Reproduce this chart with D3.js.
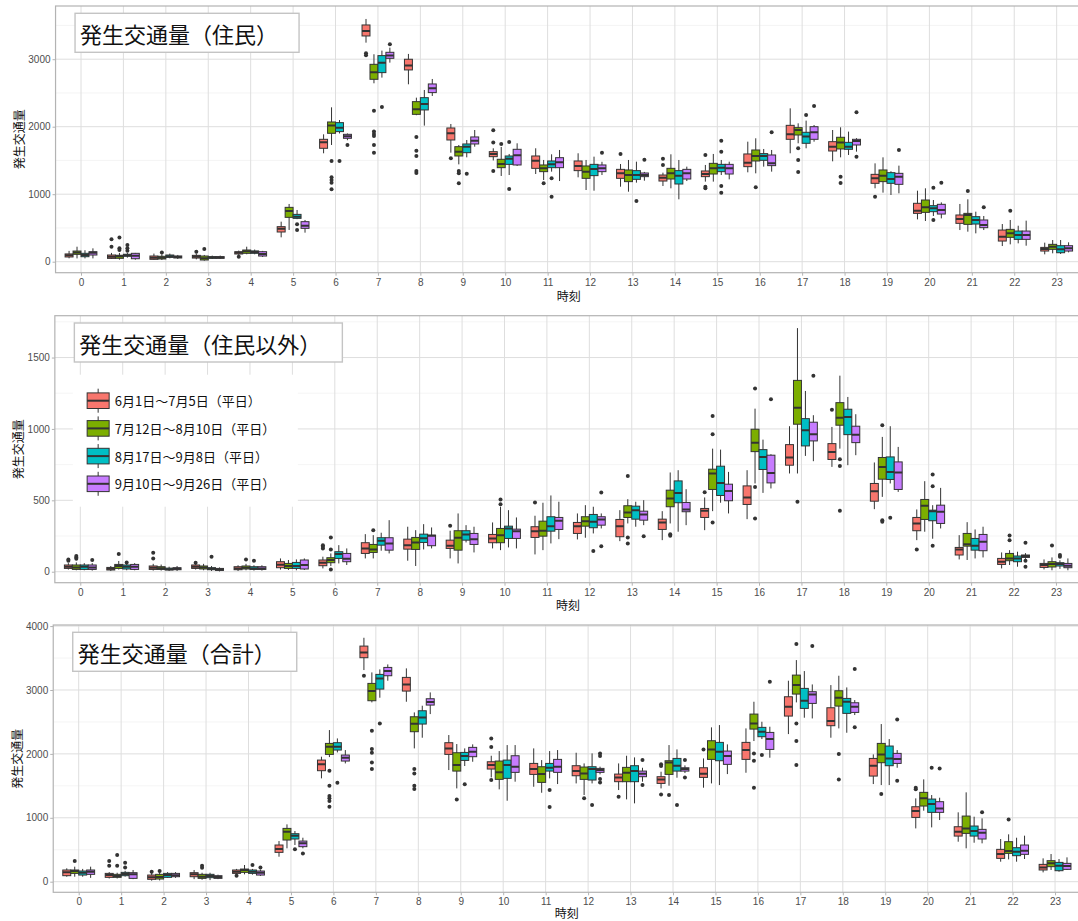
<!DOCTYPE html>
<html>
<head>
<meta charset="utf-8">
<script src="https://cdn.jsdelivr.net/npm/d3@7"></script>
<style>
  body { margin: 0; background: #fff; }
  svg { display: block; }
</style>
</head>
<body>
<svg id="chart" width="1078" height="921"></svg>
<script>
// Hour of day (categories on the x axis)
const hours = [0,1,2,3,4,5,6,7,8,9,10,11,12,13,14,15,16,17,18,19,20,21,22,23];

// Survey periods (fill groups)
const periods = ["6月1日～7月5日（平日）", "7月12日～8月10日（平日）", "8月17日～9月8日（平日）", "9月10日～9月26日（平日）"];
const periodColors = ["#F8766D", "#7CAE00", "#00BFC4", "#C77CFF"];

// Box statistics per hour: [lower whisker, Q1, median, Q3, upper whisker]
// Outliers: [hour, value]

// ---- 発生交通量（住民） ----
const residentP1 = [
  [50,70,95,115,160],[40,49,74,99,130],[30,35,59,84,120],[35,54,74,94,120],
  [100,114,133,148,165],[361,440,489,519,593],[1606,1680,1769,1813,1887],[3245,3344,3418,3507,3596],
  [2628,2841,2905,2999,3078],[1615,1803,1902,1981,2040],[1500,1556,1596,1630,1680],[1299,1383,1497,1566,1680],
  [1250,1349,1418,1492,1606],[1111,1235,1309,1368,1447],[1121,1195,1245,1284,1319],[1186,1260,1299,1344,1433],
  [1324,1408,1467,1596,1778],[1606,1813,1887,2020,2272],[1487,1640,1704,1778,1951],[1087,1161,1235,1294,1457],
  [627,716,756,865,1052],[469,568,632,692,855],[232,306,370,469,558],[109,158,188,212,282]
];
const residentP2 = [
  [49,109,138,158,222],[30,50,80,95,130],[25,40,60,80,110],[15,25,50,84,100],
  [110,124,153,173,222],[470,657,751,805,855],[1729,1902,2016,2070,2287],[2643,2702,2806,2924,3073],
  [2170,2183,2258,2371,2430],[1442,1566,1630,1704,1729],[1270,1393,1447,1517,1700],[1210,1334,1383,1433,1507],
  [1062,1235,1334,1418,1507],[1037,1186,1284,1359,1507],[1087,1225,1309,1383,1591],[1186,1299,1383,1457,1596],
  [1309,1492,1566,1655,1828],[1754,1877,1951,1986,2050],[1546,1670,1764,1843,1991],[1023,1186,1275,1359,1546],
  [603,731,805,914,1087],[445,553,692,716,924],[257,361,420,479,618],[124,183,222,257,321]
];
const residentP3 = [
  [49,74,99,124,170],[60,80,95,110,130],[50,64,80,99,120],[40,50,62,75,90],
  [110,124,143,160,180],[630,642,667,701,766],[1900,1927,1986,2060,2099],[2727,2801,2949,3053,3127],
  [2016,2248,2337,2430,2544],[1546,1615,1704,1744,1803],[1284,1442,1526,1566,1596],[1334,1393,1442,1492,1591],
  [1052,1275,1373,1442,1556],[1171,1220,1284,1349,1482],[924,1151,1275,1349,1507],[1284,1334,1393,1442,1507],
  [1408,1502,1566,1601,1670],[1680,1754,1853,1917,2090],[1581,1665,1704,1768,1927],[988,1161,1225,1319,1340],
  [677,741,790,830,914],[420,558,618,667,741],[272,331,395,454,533],[114,133,183,237,321]
];
const residentP4 = [
  [49,99,133,148,198],[30,44,89,124,130],[40,55,70,85,100],[40,50,62,75,90],
  [70,84,114,148,160],[430,494,533,593,618],[1800,1828,1857,1887,1900],[2949,3013,3053,3102,3171],
  [2455,2505,2569,2633,2707],[1704,1744,1793,1848,1951],[1418,1433,1576,1665,1754],[1195,1393,1472,1541,1655],
  [1284,1334,1383,1433,1480],[1200,1260,1285,1314,1330],[1195,1225,1309,1368,1408],[1220,1299,1383,1442,1482],
  [1334,1423,1457,1581,1655],[1778,1813,1917,2000,2025],[1630,1729,1788,1813,1830],[1013,1146,1260,1309,1423],
  [642,706,766,850,879],[469,504,543,618,677],[237,331,395,454,608],[138,158,198,237,287]
];
const residentOut1 = [[1,331],[1,222],[3,148],[4,74],[7,3087],[7,3060],[9,1531],[10,1946],[10,1764],[10,1344],[13,1596],[14,1526],[14,1433],[15,1581],[15,1111],[15,1087],[19,963]];
const residentOut2 = [[1,360],[1,198],[1,173],[2,138],[3,188],[6,1492],[6,1250],[6,1210],[6,1171],[6,1072],[7,2238],[7,1927],[7,1892],[7,1862],[7,1729],[7,1615],[8,1848],[8,1645],[8,1566],[8,1344],[8,1314],[9,1344],[9,1309],[9,1161],[10,1745],[11,1161],[16,1102],[17,1680],[17,1507],[17,1329],[18,1260],[18,1166],[21,1047],[22,756]];
const residentOut3 = [[1,247],[1,198],[1,163],[5,553],[5,469],[6,1492],[7,2292],[9,1304],[10,1773],[10,1077],[11,1235],[11,963],[13,899],[15,1793],[15,1630],[15,1121],[15,1023],[17,2174],[20,1097],[20,618]];
const residentOut4 = [[6,1729],[7,3221],[12,1615],[13,1512],[16,1917],[17,2307],[18,2213],[18,1556],[19,1655],[20,1171],[21,805]];

// ---- 発生交通量（住民以外） ----
const visitorP1 = [
  [15,23,35,47,60],[5,12,21,30,40],[8,16,28,40,55],[15,23,35,47,55],
  [5,14,22,35,45],[15,28,49,70,93],[23,42,63,82,105],[93,128,163,203,263],
  [77,158,186,228,315],[93,163,182,221,287],[163,203,233,261,345],[121,240,284,315,392],
  [226,268,319,345,408],[214,245,319,366,431],[221,296,345,368,424],[291,380,427,443,520],
  [368,471,520,601,711],[688,746,800,890,1019],[734,786,839,897,1014],[438,494,564,618,765],
  [221,287,338,380,436],[86,117,156,170,256],[23,51,70,93,135],[16,30,47,58,86]
];
const visitorP2 = [
  [10,16,30,47,65],[15,23,40,51,75],[8,16,25,35,50],[10,19,30,40,55],
  [10,19,28,40,55],[12,23,40,58,82],[40,63,82,98,128],[93,135,156,191,256],
  [40,156,205,240,291],[58,151,238,287,408],[151,203,256,303,455],[151,249,287,354,483],
  [238,319,354,385,466],[338,380,415,462,508],[338,455,513,571,695],[424,576,688,718,862],
  [618,841,904,998,1142],[688,1033,1149,1340,1706],[862,1026,1079,1184,1373],[524,648,734,800,944],
  [280,366,462,506,634],[82,179,193,268,347],[47,77,93,128,151],[10,33,54,70,100]
];
const visitorP3 = [
  [10,16,35,47,60],[10,19,35,47,55],[5,12,18,25,35],[5,14,20,28,40],
  [8,16,22,35,45],[10,23,40,65,86],[58,93,124,140,186],[147,186,217,238,273],
  [156,205,235,263,333],[205,221,261,287,326],[170,233,303,319,431],[198,284,319,385,534],
  [268,308,350,401,455],[315,368,431,459,490],[280,483,552,636,711],[483,534,622,739,855],
  [552,716,804,855,925],[811,881,991,1072,1266],[746,960,1084,1138,1224],[618,646,699,804,1019],
  [231,357,424,431,466],[93,151,182,233,296],[35,70,93,110,140],[20,40,54,63,80]
];
const visitorP4 = [
  [8,16,30,47,60],[10,16,35,51,60],[5,14,20,28,40],[2,9,16,23,30],
  [8,16,22,35,45],[12,19,47,82,93],[47,70,91,128,163],[128,151,198,238,361],
  [163,182,252,256,310],[135,191,228,268,315],[163,233,284,298,380],[228,296,357,380,490],
  [303,326,366,385,408],[326,361,401,424,501],[326,420,436,485,578],[408,497,566,613,699],
  [583,622,692,816,823],[774,916,963,1047,1096],[816,904,960,1019,1103],[559,576,695,769,874],
  [303,338,420,466,587],[100,147,210,261,315],[90,100,110,117,130],[10,28,42,58,93]
];
const visitorOut1 = [[0,86],[0,77],[2,133],[2,93],[3,62],[6,186],[6,175],[6,163],[9,322],[11,485],[15,557],[18,1135],[20,156]];
const visitorOut2 = [[0,110],[0,100],[0,91],[1,124],[4,86],[6,240],[6,156],[6,16],[7,291],[10,506],[10,473],[13,671],[13,240],[13,198],[14,263],[14,252],[15,1091],[15,963],[15,345],[16,1284],[16,594],[16,373],[17,490],[18,788],[18,741],[18,427],[19,1026],[19,361],[19,350],[22,254],[22,221],[23,184]];
const visitorOut3 = [[1,65],[3,105],[4,77],[12,145],[19,378],[20,681],[20,599],[20,182],[23,117],[23,105]];
const visitorOut4 = [[0,82],[12,555],[12,179],[13,249],[16,1207],[17,1373],[22,203],[22,77],[22,35]];

// ---- 発生交通量（合計） ----
const totalP1 = [
  [78,94,146,183,209],[50,68,104,130,150],[16,37,68,104,140],[40,78,115,141,183],
  [110,130,156,183,200],[391,459,511,574,636],[1617,1737,1836,1903,1956],[3312,3505,3588,3687,3817],
  [2816,2983,3087,3197,3338],[1747,1992,2086,2175,2295],[1632,1763,1825,1877,1971],[1486,1679,1763,1851,2086],
  [1538,1658,1731,1815,2018],[1434,1565,1632,1684,1851],[1460,1538,1601,1643,1721],[1471,1632,1690,1783,1929],
  [1705,1914,2060,2180,2399],[2310,2592,2738,2894,3145],[2253,2441,2514,2722,3077],[1528,1653,1815,1929,1992],
  [834,1006,1106,1173,1304],[626,714,782,860,1085],[313,365,433,506,668],[146,183,224,271,365]
];
const totalP2 = [
  [78,130,167,183,235],[50,68,89,115,140],[20,42,73,115,150],[30,52,78,115,140],
  [115,146,183,198,261],[522,652,782,834,897],[1950,1992,2112,2164,2373],[2806,2832,2983,3103,3275],
  [2086,2347,2472,2581,2649],[1460,1731,1825,2018,2154],[1445,1601,1711,1888,2044],[1392,1554,1684,1799,1903],
  [1356,1601,1695,1794,1851],[1288,1565,1705,1789,1971],[1502,1679,1867,1893,2138],[1538,1914,2070,2206,2415],
  [2201,2388,2477,2623,2816],[2806,2936,3077,3233,3468],[2399,2748,2879,2988,3223],[1512,1862,1992,2164,2467],
  [1111,1184,1304,1398,1601],[522,756,834,1027,1398],[349,443,480,626,741],[183,235,287,329,433]
];
const totalP3 = [
  [78,104,141,167,200],[80,94,120,146,170],[60,68,104,130,150],[25,63,89,115,140],
  [110,130,156,183,200],[574,668,720,751,793],[2023,2060,2112,2175,2242],[2879,3014,3181,3244,3322],
  [2253,2467,2571,2675,2754],[1810,1898,1966,2023,2086],[1267,1617,1825,1903,2138],[1617,1731,1783,1851,2044],
  [1538,1591,1763,1799,2008],[1226,1565,1731,1815,1945],[1627,1731,1815,1929,2070],[1512,1893,2034,2180,2451],
  [2232,2269,2347,2415,2503],[2566,2712,2832,3025,3296],[2331,2634,2816,2868,3040],[1512,1815,1929,2123,2232],
  [850,1085,1215,1293,1356],[610,714,793,871,1017],[313,407,469,532,688],[156,172,250,302,355]
];
const totalP4 = [
  [60,115,156,183,235],[40,52,115,141,183],[60,78,100,130,150],[40,52,73,94,110],
  [90,104,141,167,190],[522,548,600,636,688],[1851,1888,1940,1982,2060],[3145,3223,3296,3353,3400],
  [2623,2764,2811,2863,2962],[1877,1956,2034,2102,2149],[1565,1711,1799,1971,2138],[1528,1711,1799,1914,2060],
  [1680,1711,1747,1773,1800],[1565,1643,1690,1731,1783],[1700,1731,1763,1783,1820],[1684,1836,1966,2044,2149],
  [1940,2070,2232,2336,2425],[2555,2790,2931,2973,3087],[2608,2649,2738,2800,2842],[1783,1851,1919,2008,2060],
  [965,1085,1147,1252,1314],[600,668,767,819,991],[355,428,485,574,720],[183,193,245,287,381]
];
const totalOut1 = [[1,323],[1,250],[2,156],[4,94],[7,3223],[10,2242],[10,2107],[10,1591],[13,1330],[14,1836],[14,1810],[14,1366],[15,2070],[20,1471],[20,1445]];
const totalOut2 = [[0,323],[1,417],[1,250],[2,167],[3,250],[3,219],[6,1737],[6,1502],[6,1340],[6,1304],[6,1262],[6,1173],[7,2362],[7,2076],[7,2018],[7,1867],[7,1763],[8,1763],[8,1695],[8,1502],[8,1450],[9,1288],[12,1304],[14,1356],[16,2008],[16,1893],[16,1471],[17,3718],[17,2477],[17,2201],[17,1825],[18,1997],[18,1601],[19,1372],[22,975]];
const totalOut3 = [[1,297],[1,224],[4,261],[5,506],[6,1549],[7,2477],[9,1523],[11,1434],[11,1168],[12,1199],[14,1199],[16,1982],[20,1783]];
const totalOut4 = [[4,224],[5,443],[12,2008],[12,1966],[12,1606],[12,1554],[13,1903],[13,1512],[14,1903],[14,1632],[16,3129],[17,3687],[18,3327],[18,2415],[19,2540],[19,1580],[20,1773],[21,1085]];

// Y tick values per panel
const residentTicks = [0, 1000, 2000, 3000];
const visitorTicks = [0, 500, 1000, 1500];
const totalTicks = [0, 1000, 2000, 3000, 4000];

// Panel layout
const panels = [
  { title: "発生交通量（住民）", stats: [residentP1, residentP2, residentP3, residentP4],
    outliers: [residentOut1, residentOut2, residentOut3, residentOut4],
    yDomain: [-163, 3788], ticks: residentTicks, minorStep: 500,
    top: 6, bottom: 272.7, x0: 81, step: 42.42, xTitleGap: 23, legend: false },
  { title: "発生交通量（住民以外）", stats: [visitorP1, visitorP2, visitorP3, visitorP4],
    outliers: [visitorOut1, visitorOut2, visitorOut3, visitorOut4],
    yDomain: [-77, 1793], ticks: visitorTicks, minorStep: 250,
    top: 315.7, bottom: 582.7, x0: 80.3, step: 42.42, xTitleGap: 22, legend: true },
  { title: "発生交通量（合計）", stats: [totalP1, totalP2, totalP3, totalP4],
    outliers: [totalOut1, totalOut2, totalOut3, totalOut4],
    yDomain: [-166, 4017], ticks: totalTicks, minorStep: 500,
    top: 625, bottom: 892.3, x0: 78.7, step: 42.45, xTitleGap: 20, legend: false }
];

const svg = d3.select("#chart");
const cjk = "'Noto Sans CJK JP', 'Noto Sans', sans-serif";
const latin = "'Liberation Sans', Arial, 'Noto Sans CJK JP', sans-serif";
const gridMajor = "#dedede";
const gridMinor = "#efefef";
const frame = "#b3b3b3";
const ink = "#333333";

panels.forEach((p, pi) => {
  const left = p.x0 - 0.6 * p.step;
  const right = p.x0 + 23.6 * p.step;
  const x = d3.scalePoint().domain(hours).range([p.x0, p.x0 + 23 * p.step]);
  const dodge = d3.scaleBand().domain([0, 1, 2, 3]).range([-0.375 * p.step, 0.375 * p.step]);
  const y = d3.scaleLinear().domain(p.yDomain).range([p.bottom, p.top]);
  const bw = dodge.bandwidth();

  const g = svg.append("g");
  const clipId = "clip" + pi;
  svg.append("clipPath").attr("id", clipId)
    .append("rect").attr("x", left).attr("y", p.top).attr("width", right - left).attr("height", p.bottom - p.top);

  const plot = g.append("g").attr("clip-path", `url(#${clipId})`);

  // minor horizontal grid
  const minor = d3.range(p.ticks[0] + p.minorStep, p.yDomain[1], p.minorStep * 2);
  plot.selectAll(".minor").data(minor).join("line")
    .attr("x1", left).attr("x2", right)
    .attr("y1", d => y(d)).attr("y2", d => y(d))
    .attr("stroke", gridMinor).attr("stroke-width", 0.6);
  // major horizontal grid
  plot.selectAll(".hmaj").data(p.ticks).join("line")
    .attr("x1", left).attr("x2", right)
    .attr("y1", d => y(d)).attr("y2", d => y(d))
    .attr("stroke", gridMajor).attr("stroke-width", 1);
  // vertical grid
  plot.selectAll(".vmaj").data(hours).join("line")
    .attr("x1", d => x(d)).attr("x2", d => x(d))
    .attr("y1", p.top).attr("y2", p.bottom)
    .attr("stroke", gridMajor).attr("stroke-width", 1);

  // boxplots
  p.stats.forEach((series, si) => {
    const sg = plot.append("g");
    const cx = h => x(h) + dodge(si) + bw / 2;
    const boxes = sg.selectAll("g.box").data(series.map((s, h) => ({ h, s }))).join("g");
    boxes.append("line")
      .attr("x1", d => cx(d.h)).attr("x2", d => cx(d.h))
      .attr("y1", d => y(d.s[0])).attr("y2", d => y(d.s[4]))
      .attr("stroke", ink).attr("stroke-width", 1);
    boxes.append("rect")
      .attr("x", d => cx(d.h) - bw / 2).attr("width", bw)
      .attr("y", d => y(d.s[3])).attr("height", d => Math.max(0.5, y(d.s[1]) - y(d.s[3])))
      .attr("fill", periodColors[si]).attr("stroke", ink).attr("stroke-width", 1);
    boxes.append("line")
      .attr("x1", d => cx(d.h) - bw / 2).attr("x2", d => cx(d.h) + bw / 2)
      .attr("y1", d => y(d.s[2])).attr("y2", d => y(d.s[2]))
      .attr("stroke", ink).attr("stroke-width", 2);
    sg.selectAll("circle").data(p.outliers[si]).join("circle")
      .attr("cx", d => cx(d[0])).attr("cy", d => y(d[1])).attr("r", 2)
      .attr("fill", ink);
  });

  // panel frame
  g.append("rect").attr("x", left).attr("y", p.top)
    .attr("width", right - left).attr("height", p.bottom - p.top)
    .attr("fill", "none").attr("stroke", frame).attr("stroke-width", 1.2);

  // axes
  const yAxis = g.append("g").attr("transform", `translate(${left},0)`)
    .call(d3.axisLeft(y).tickValues(p.ticks).tickSize(3).tickPadding(2).tickFormat(d3.format("d")));
  const xAxis = g.append("g").attr("transform", `translate(0,${p.bottom})`)
    .call(d3.axisBottom(x).tickSize(3).tickPadding(3));
  [yAxis, xAxis].forEach(ax => {
    ax.select(".domain").remove();
    ax.selectAll(".tick line").attr("stroke", frame).attr("stroke-width", 1);
    ax.selectAll(".tick text").attr("fill", "#4d4d4d").style("font-family", latin).style("font-size", "10px");
  });

  // axis titles
  g.append("text")
    .attr("transform", `translate(${left - 37},${(p.top + p.bottom) / 2}) rotate(-90)`)
    .attr("text-anchor", "middle").attr("dominant-baseline", "central")
    .style("font-family", cjk).style("font-size", "12px").attr("fill", "#111")
    .text("発生交通量");
  g.append("text")
    .attr("x", (left + right) / 2).attr("y", p.bottom + p.xTitleGap)
    .attr("text-anchor", "middle").attr("dominant-baseline", "central")
    .style("font-family", cjk).style("font-size", "12px").attr("fill", "#111")
    .text("時刻");

  // title label
  const tg = g.append("g");
  const tBox = tg.append("rect");
  const tText = tg.append("text")
    .attr("x", left + 24.5).attr("y", p.top + 26.8)
    .attr("dominant-baseline", "central")
    .style("font-family", cjk).style("font-size", "22px").attr("fill", "#111")
    .text(p.title);
  const tw = tText.node().getComputedTextLength();
  tBox.attr("x", left + 19.5).attr("y", p.top + 7.3)
    .attr("width", tw + 26).attr("height", 39)
    .attr("fill", "#fff").attr("stroke", "#c4c4c4").attr("stroke-width", 1.4);

  // legend inside panel
  if (p.legend) {
    const lg = g.append("g");
    lg.append("rect").attr("x", left + 18).attr("y", p.top + 59)
      .attr("width", 225).attr("height", 132).attr("fill", "#fff");
    periods.forEach((label, i) => {
      const cy = p.top + 85 + i * 27.7;
      const kx = left + 32.3;
      lg.append("line").attr("x1", kx + 11).attr("x2", kx + 11)
        .attr("y1", cy - 12).attr("y2", cy + 12).attr("stroke", ink).attr("stroke-width", 1);
      lg.append("rect").attr("x", kx).attr("y", cy - 7.8).attr("width", 22).attr("height", 15.6)
        .attr("fill", periodColors[i]).attr("stroke", ink).attr("stroke-width", 1);
      lg.append("line").attr("x1", kx).attr("x2", kx + 22)
        .attr("y1", cy).attr("y2", cy).attr("stroke", ink).attr("stroke-width", 2);
      lg.append("text").attr("x", left + 60).attr("y", cy)
        .attr("dominant-baseline", "central")
        .style("font-family", cjk).style("font-size", "13px").attr("fill", "#111")
        .text(label);
    });
  }
});
</script>
</body>
</html>
